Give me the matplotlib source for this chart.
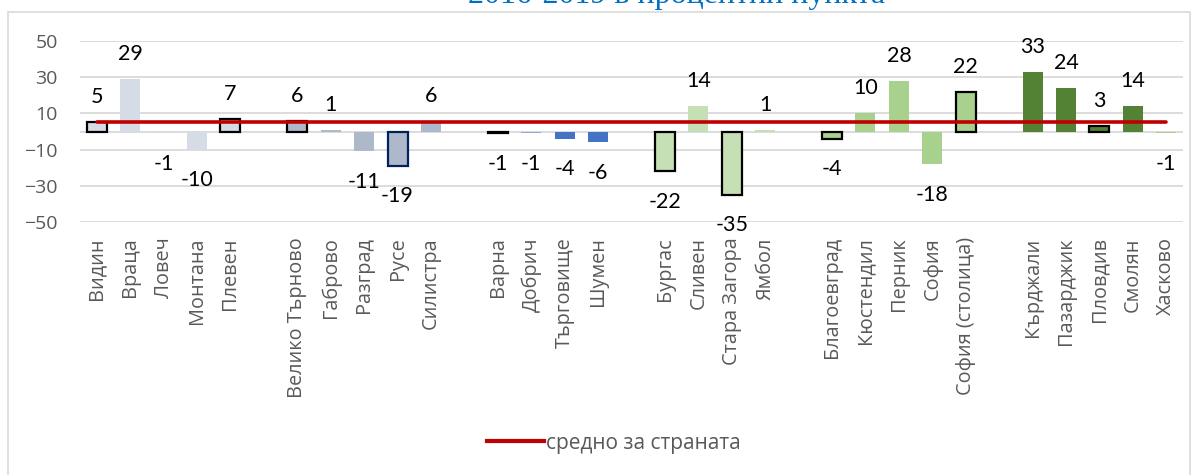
import matplotlib
matplotlib.use("Agg")
import matplotlib.pyplot as plt
import numpy as np
from matplotlib.lines import Line2D
from matplotlib.patches import Rectangle

# ---------------- data ----------------
categories = ["Видин", "Враца", "Ловеч", "Монтана", "Плевен", "",
              "Велико Търново", "Габрово", "Разград", "Русе", "Силистра", "",
              "Варна", "Добрич", "Търговище", "Шумен", "",
              "Бургас", "Сливен", "Стара Загора", "Ямбол", "",
              "Благоевград", "Кюстендил", "Перник", "София", "София (столица)", "",
              "Кърджали", "Пазарджик", "Пловдив", "Смолян", "Хасково"]
values = [5, 29, -1, -10, 7, None,
          6, 1, -11, -19, 6, None,
          -1, -1, -4, -6, None,
          -22, 14, -35, 1, None,
          -4, 10, 28, -18, 22, None,
          33, 24, 3, 14, -1]
region = ["СЗ", "СЗ", "СЗ", "СЗ", "СЗ", None,
          "СЦ", "СЦ", "СЦ", "СЦ", "СЦ", None,
          "СИ", "СИ2", "СИ", "СИ", None,
          "ЮИ", "ЮИ", "ЮИ", "ЮИ", None,
          "ЮЗ", "ЮЗ", "ЮЗ", "ЮЗ", "ЮЗ", None,
          "ЮЦ", "ЮЦ", "ЮЦ", "ЮЦ", "ЮЦ2"]
# outline markers (highlighted districts)
outlined = ["Видин", "Плевен", "Велико Търново", "Варна", "Бургас",
            "Стара Загора", "Благоевград", "София (столица)", "Пловдив"]
outlined_navy = ["Русе"]
country_average = 5
title = "2016-2019 в процентни пункта"
legend_label = "средно за страната"

# ---------------- style ----------------
region_colors = {"СЗ": "#D6DCE5", "СЦ": "#ADB9CA", "СИ": "#4472C4", "СИ2": "#8FAADC",
                 "ЮИ": "#C5E0B4", "ЮЗ": "#A9D18E", "ЮЦ": "#548235", "ЮЦ2": "#A9D18E"}

W, H, DPI = 1198, 475, 100
fig = plt.figure(figsize=(W / DPI, H / DPI), dpi=DPI)
fig.patch.set_facecolor("white")

ax = fig.add_axes([80 / W, 1 - 222 / H, 1103 / W, 181 / H])
x = np.arange(len(categories))

for xi, cat, v, r in zip(x, categories, values, region):
    if v is None:
        continue
    if cat in outlined:
        ec, lw = "black", 1.6
    elif cat in outlined_navy:
        ec, lw = "#002060", 1.6
    else:
        ec, lw = "none", 0
    ax.bar(xi, v, width=0.6, color=region_colors[r], edgecolor=ec, linewidth=lw, zorder=3)
    off = 18 if v >= 0 else -22
    ax.annotate(f"{v}", (xi, v), xytext=(0, off), textcoords="offset points",
                ha="center", va="center", fontsize=15.5, family="Lato",
                color="black", zorder=5)

valid = [xi for xi, v in zip(x, values) if v is not None]
ax.plot([valid[0], valid[-1]], [country_average, country_average], color="#C00000",
        linewidth=2.6, zorder=4, solid_capstyle="round")

ax.set_xlim(-0.5, len(categories) - 0.5)
ax.set_ylim(-50, 50)
ax.set_yticks([-50, -30, -10, 10, 30, 50])
ax.grid(axis="y", color="#D9D9D9", linewidth=1.3, zorder=0)
ax.axhline(0, color="#D9D9D9", linewidth=1.3, zorder=1)
for s in ax.spines.values():
    s.set_visible(False)
ax.set_xticks(x)
ax.set_xticklabels(categories, rotation=90, va="top", ha="center",
                   family="Open Sans", fontsize=14.3, color="#595959")
ax.tick_params(axis="x", length=0, pad=11)
ax.tick_params(axis="y", length=0, pad=16, labelsize=14, labelcolor="#595959")
for lab in ax.get_yticklabels():
    lab.set_family("Open Sans")

# legend
handle = Line2D([], [], color="#C00000", linewidth=3)
leg = fig.legend([handle], [legend_label], loc="center",
                 bbox_to_anchor=(614 / W, 1 - 443 / H), frameon=False,
                 handlelength=2.75, handletextpad=0.1,
                 prop={"family": "Open Sans", "size": 15})
for t in leg.get_texts():
    t.set_color("#595959")

# chart border
fig.add_artist(Rectangle((8 / W, -0.05), 1182 / W, 1 - 12 / H + 0.05,
                         transform=fig.transFigure, fill=False,
                         edgecolor="#D9D9D9", linewidth=1.2))

fig.text(677 / W, 1 - 3.5 / H, title, ha="center", va="baseline",
         fontsize=23, family="Liberation Serif", color="#0070C0")

fig.savefig("out.png", dpi=DPI)
